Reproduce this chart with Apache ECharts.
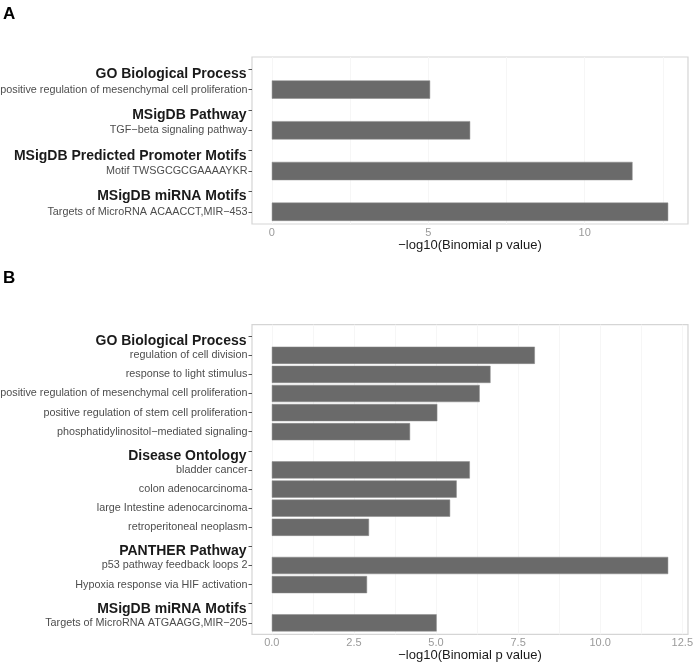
<!DOCTYPE html>
<html>
<head>
<meta charset="utf-8">
<script src="https://cdn.jsdelivr.net/npm/echarts@6/dist/echarts.min.js"></script>
<style>html,body{margin:0;padding:0;background:#fff;}#c{width:697px;height:662px;}</style>
</head>
<body>
<div id="c"></div>
<script>
// ---------- data ----------
const headers = ['GO Biological Process','MSigDB Pathway','MSigDB Predicted Promoter Motifs','MSigDB miRNA Motifs','Disease Ontology','PANTHER Pathway'];

const labelsA = ['GO Biological Process',
  'positive regulation of mesenchymal cell proliferation',
  'MSigDB Pathway',
  'TGF−beta signaling pathway',
  'MSigDB Predicted Promoter Motifs',
  'Motif TWSGCGCGAAAAYKR',
  'MSigDB miRNA Motifs',
  'Targets of MicroRNA ACAACCT,MIR−453'];
const valuesA = [null, 5.06, null, 6.34, null, 11.53, null, 12.67];
const ticksA = [0, 5, 10];
const gridTicksA = [0, 2.5, 5, 7.5, 10, 12.5];

const labelsB = ['GO Biological Process',
  'regulation of cell division',
  'response to light stimulus',
  'positive regulation of mesenchymal cell proliferation',
  'positive regulation of stem cell proliferation',
  'phosphatidylinositol−mediated signaling',
  'Disease Ontology',
  'bladder cancer',
  'colon adenocarcinoma',
  'large Intestine adenocarcinoma',
  'retroperitoneal neoplasm',
  'PANTHER Pathway',
  'p53 pathway feedback loops 2',
  'Hypoxia response via HIF activation',
  'MSigDB miRNA Motifs',
  'Targets of MicroRNA ATGAAGG,MIR−205'];
const valuesB = [null, 8.01, 6.66, 6.33, 5.04, 4.21, null, 6.03, 5.63, 5.43, 2.96, null, 12.07, 2.90, null, 5.02];
const ticksB = [0, 2.5, 5, 7.5, 10, 12.5];
const gridTicksB = [0, 1.25, 2.5, 3.75, 5, 6.25, 7.5, 8.75, 10, 11.25, 12.5];

const xTitle = '−log10(Binomial p value)';

// ---------- layout helpers ----------
const FONT = 'Liberation Sans, Arial, Helvetica, sans-serif';
function expandRange(vals) {
  const mx = Math.max(...vals.filter(v => v != null));
  const pad = mx * 0.05;
  return [-pad, mx + pad];
}
const rA = expandRange(valuesA);
const rB = expandRange(valuesB);

const L = 252, W = 436;
const pA = {top: 57, height: 167, n: labelsA.length};
const pB = {top: 324.7, height: 309.6, n: labelsB.length};
function inner(p) {
  const unit = p.height / (p.n - 1 + 1.2);
  return {top: p.top + 0.1 * unit, height: p.height - 0.2 * unit};
}
const iA = inner(pA), iB = inner(pB);

function yLabelFormatter(v) {
  return headers.indexOf(v) >= 0 ? '{h|' + v + '}' : '{i|' + v + '}';
}
const rich = {
  h: {fontFamily: FONT, fontSize: 14, fontWeight: 'bold', color: '#1a1a1a', padding: [10, 1, 0, 0]},
  i: {fontFamily: FONT, fontSize: 10.8, color: '#4d4d4d'}
};

function frameX(grid, range, labelTicks, gridTicks, fmt, gap) {
  return {
    type: 'value', gridIndex: grid, min: range[0], max: range[1],
    axisLine: {show: false},
    axisTick: {show: false, customValues: gridTicks},
    splitLine: {show: true, customValues: gridTicks, lineStyle: {color: '#f6f6f6', width: 1}},
    axisLabel: {customValues: labelTicks, margin: 3, fontFamily: FONT, fontSize: 11, color: '#9a9a9a', formatter: fmt},
    name: xTitle, nameLocation: 'middle', nameGap: gap,
    nameTextStyle: {fontFamily: FONT, fontSize: 13, color: '#1a1a1a', verticalAlign: 'middle'}
  };
}
function dataX(grid, range) {
  return {type: 'value', gridIndex: grid, min: range[0], max: range[1], show: false, splitLine: {show: false}};
}
function frameY(grid) {
  return {type: 'value', gridIndex: grid, show: false, splitLine: {show: false}};
}
function dataY(grid, labels) {
  return {
    type: 'category', gridIndex: grid, data: labels, inverse: true,
    axisLine: {show: false, onZero: false},
    axisTick: {show: true, alignWithLabel: true, length: 3.5, lineStyle: {color: '#555', width: 1}},
    axisLabel: {margin: 4.5, formatter: yLabelFormatter, rich: rich, interval: 0},
    splitLine: {show: false}
  };
}
const gridBase = {outerBoundsMode: 'none', containLabel: false};

const chart = echarts.init(document.getElementById('c'), null, {renderer: 'canvas'});
chart.setOption({
  backgroundColor: '#ffffff',
  animation: false,
  graphic: [
    {type: 'text', left: 3, top: 6, style: {text: 'A', font: 'bold 17px ' + FONT, fill: '#000'}},
    {type: 'text', left: 3, top: 270, style: {text: 'B', font: 'bold 17px ' + FONT, fill: '#000'}}
  ],
  grid: [
    Object.assign({left: L, width: W, top: pA.top, height: pA.height, show: true, borderColor: '#d5d5d5', borderWidth: 1.2, backgroundColor: 'transparent'}, gridBase),
    Object.assign({left: L, width: W, top: iA.top, height: iA.height}, gridBase),
    Object.assign({left: L, width: W, top: pB.top, height: pB.height, show: true, borderColor: '#d5d5d5', borderWidth: 1.2, backgroundColor: 'transparent'}, gridBase),
    Object.assign({left: L, width: W, top: iB.top, height: iB.height}, gridBase)
  ],
  xAxis: [
    frameX(0, rA, ticksA, gridTicksA, v => String(v), 15.5),
    dataX(1, rA),
    frameX(2, rB, ticksB, gridTicksB, v => v.toFixed(1), 17),
    dataX(3, rB)
  ],
  yAxis: [
    frameY(0), dataY(1, labelsA), frameY(2), dataY(3, labelsB)
  ],
  series: [
    {type: 'bar', xAxisIndex: 1, yAxisIndex: 1, data: valuesA, barCategoryGap: '10%',
     itemStyle: {color: '#6a6a6a', borderColor: '#8a8a8a', borderWidth: 0.5}},
    {type: 'bar', xAxisIndex: 3, yAxisIndex: 3, data: valuesB, barCategoryGap: '10%',
     itemStyle: {color: '#6a6a6a', borderColor: '#8a8a8a', borderWidth: 0.5}}
  ]
});
</script>
</body>
</html>
